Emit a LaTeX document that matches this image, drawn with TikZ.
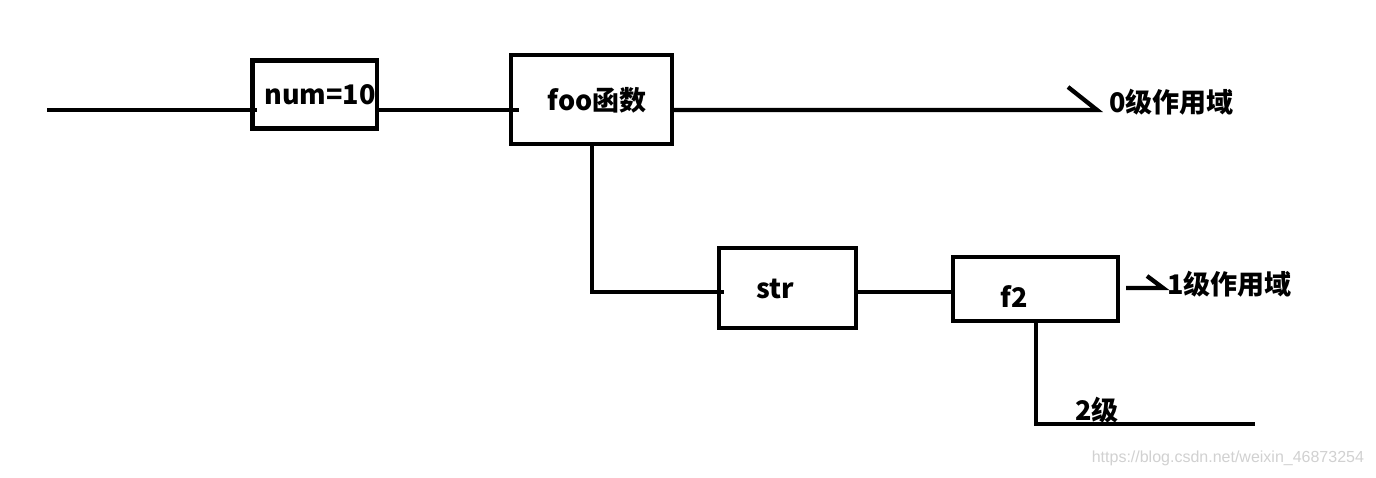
\documentclass[tikz,border=0pt]{standalone}
\usepackage{fontspec}
\setmainfont{Liberation Sans}
\newfontfamily\cjk{Noto Sans CJK SC}
\begin{document}
\begin{tikzpicture}[x=1pt,y=-1pt,line width=4pt,
  boxn/.style={draw,line width=4.3pt,inner sep=0pt,rectangle},
  lbl/.style={font=\cjk\bfseries\fontsize{27}{27}\selectfont,inner sep=0pt},
  wire/.style={line width=4.3pt}]
\useasboundingbox[fill=white] (0,0) rectangle (1376,477);
% boxes
\node[boxn,minimum width=124.5pt,minimum height=68pt] (num) at (314.7,94.5) {};
\node[boxn,minimum width=161pt,minimum height=89pt] (foo) at (591.5,99.5) {};
\node[boxn,minimum width=137pt,minimum height=80pt] (str) at (787.5,288) {};
\node[boxn,minimum width=165pt,minimum height=64pt] (ftwo) at (1035.5,289) {};
% labels
\node[lbl] (tnum) at (320,95) {num=10};
\node[lbl] (tfoo) at (597,100) {foo函数};
\node[lbl] (tstr) at (775,289) {str};
\node[lbl] (tf2) at (1014,297) {f2};
\node[lbl,anchor=west] (t0) at (1107,102) {0级作用域};
\node[lbl,anchor=west] (t1) at (1165,284) {1级作用域};
\node[lbl,anchor=west] (t2) at (1073,410) {2级};
% coordinates
\coordinate (start) at (47,110);
\coordinate (numin) at (257,110);
\coordinate (numout) at (377,110);
\coordinate (fooin) at (519,110);
\coordinate (fooout) at (672,110);
\coordinate (end0) at (1097,110);
\coordinate (tick0) at (1068,87);
\coordinate (foobot) at (592,144);
\coordinate (corner1) at (592,292);
\coordinate (strin) at (724,292);
\coordinate (strout) at (856,292);
\coordinate (f2in) at (955,292);
\coordinate (a1s) at (1126,288);
\coordinate (a1e) at (1163,288);
\coordinate (tick1) at (1147,276);
\coordinate (f2bot) at (1036,321);
\coordinate (corner2) at (1036,424);
\coordinate (end2) at (1255,424);
% wires
\draw[wire] (start) -- (numin);
\draw[wire] (numout) -- (fooin);
\draw[wire] (fooout) -- (end0) -- (tick0);
\draw[wire] (foobot) -- (corner1) -- (strin);
\draw[wire] (strout) -- (f2in);
\draw[wire] (a1s) -- (a1e) -- (tick1);
\draw[wire] (f2bot) -- (corner2) -- (end2);
% watermark
\node[anchor=east,inner sep=0pt,text=black!18,font=\fontsize{16}{16}\selectfont] (wm) at (1366,458) {https://blog.csdn.net/weixin\_46873254};
\end{tikzpicture}
\end{document}
